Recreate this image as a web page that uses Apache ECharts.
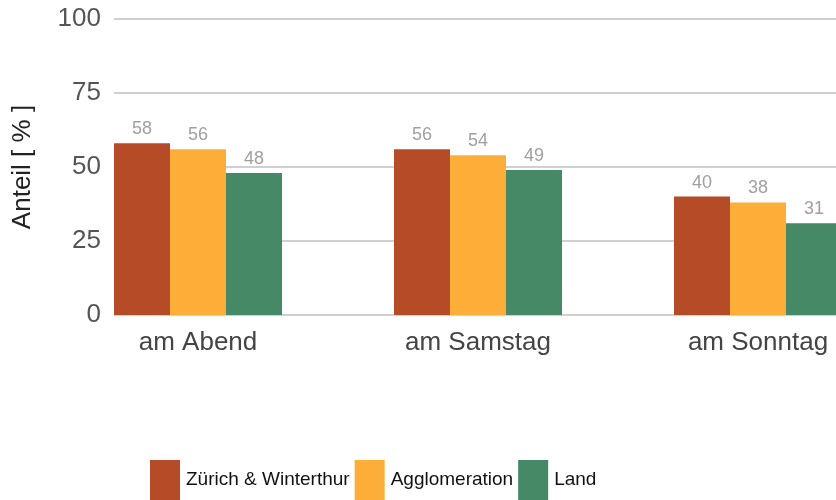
<!DOCTYPE html>
<html>
<head>
<meta charset="utf-8">
<script src="https://cdn.jsdelivr.net/npm/echarts@6/dist/echarts.min.js"></script>
<style>
  html, body { margin: 0; padding: 0; background: #fff; }
  #main { width: 836px; height: 500px; }
</style>
</head>
<body>
<div id="main"></div>
<script>
// Daten
var categories = ['am Abend', 'am Samstag', 'am Sonntag'];
var zuerich = [58, 56, 40];
var agglo = [56, 54, 38];
var land = [48, 49, 31];
var seriesNames = ['Zürich & Winterthur', 'Agglomeration', 'Land'];
var colors = ['#b54b27', '#fdae38', '#468966'];

var myChart = echarts.init(document.getElementById('main'));

var labelStyle = {
  show: true,
  position: 'top',
  distance: 5,
  color: '#a0a0a0',
  fontSize: 18,
  fontFamily: 'Liberation Sans'
};

function bar(name, data, color) {
  return {
    name: name,
    type: 'bar',
    xAxisIndex: 1,
    yAxisIndex: 1,
    data: data,
    barGap: 0,
    barCategoryGap: '40%',
    itemStyle: { color: color },
    label: labelStyle,
    z: 3
  };
}

var option = {
  animation: false,
  textStyle: { fontFamily: 'Liberation Sans' },
  // grid 0: nur Gitterlinien + y-Beschriftung, grid 1: Balken (breiter, rechts abgeschnitten)
  grid: [
    { left: 114, right: 0, top: 19, bottom: 185, outerBoundsMode: 'none' },
    { left: 58, right: -62, top: 19, bottom: 185, outerBoundsMode: 'none' }
  ],
  legend: {
    left: 150,
    top: 460,
    padding: 0,
    itemWidth: 30,
    itemHeight: 40,
    itemGap: 5,
    icon: 'rect',
    textStyle: {
      color: '#111',
      fontSize: 19,
      padding: [0, 0, 0, 1]
    },
    data: seriesNames
  },
  xAxis: [
    { type: 'category', gridIndex: 0, show: false, data: categories },
    {
      type: 'category',
      gridIndex: 1,
      data: categories,
      axisLine: { show: false },
      axisTick: { show: false },
      axisLabel: { color: '#444', fontSize: 26, margin: 15 }
    }
  ],
  yAxis: [
    {
      type: 'value',
      gridIndex: 0,
      min: 0,
      max: 100,
      interval: 25,
      name: 'Anteil [ % ]',
      nameLocation: 'middle',
      nameRotate: 90,
      nameGap: 78,
      nameTextStyle: { color: '#222', fontSize: 26 },
      axisLine: { show: false },
      axisTick: { show: false },
      axisLabel: { color: '#555', fontSize: 26, margin: 13 },
      splitLine: { lineStyle: { color: '#d0d0d0', width: 2 } }
    },
    {
      type: 'value',
      gridIndex: 1,
      min: 0,
      max: 100,
      show: false,
      splitLine: { show: false }
    }
  ],
  series: [
    bar(seriesNames[0], zuerich, colors[0]),
    bar(seriesNames[1], agglo, colors[1]),
    bar(seriesNames[2], land, colors[2])
  ]
};

myChart.setOption(option);
</script>
</body>
</html>
